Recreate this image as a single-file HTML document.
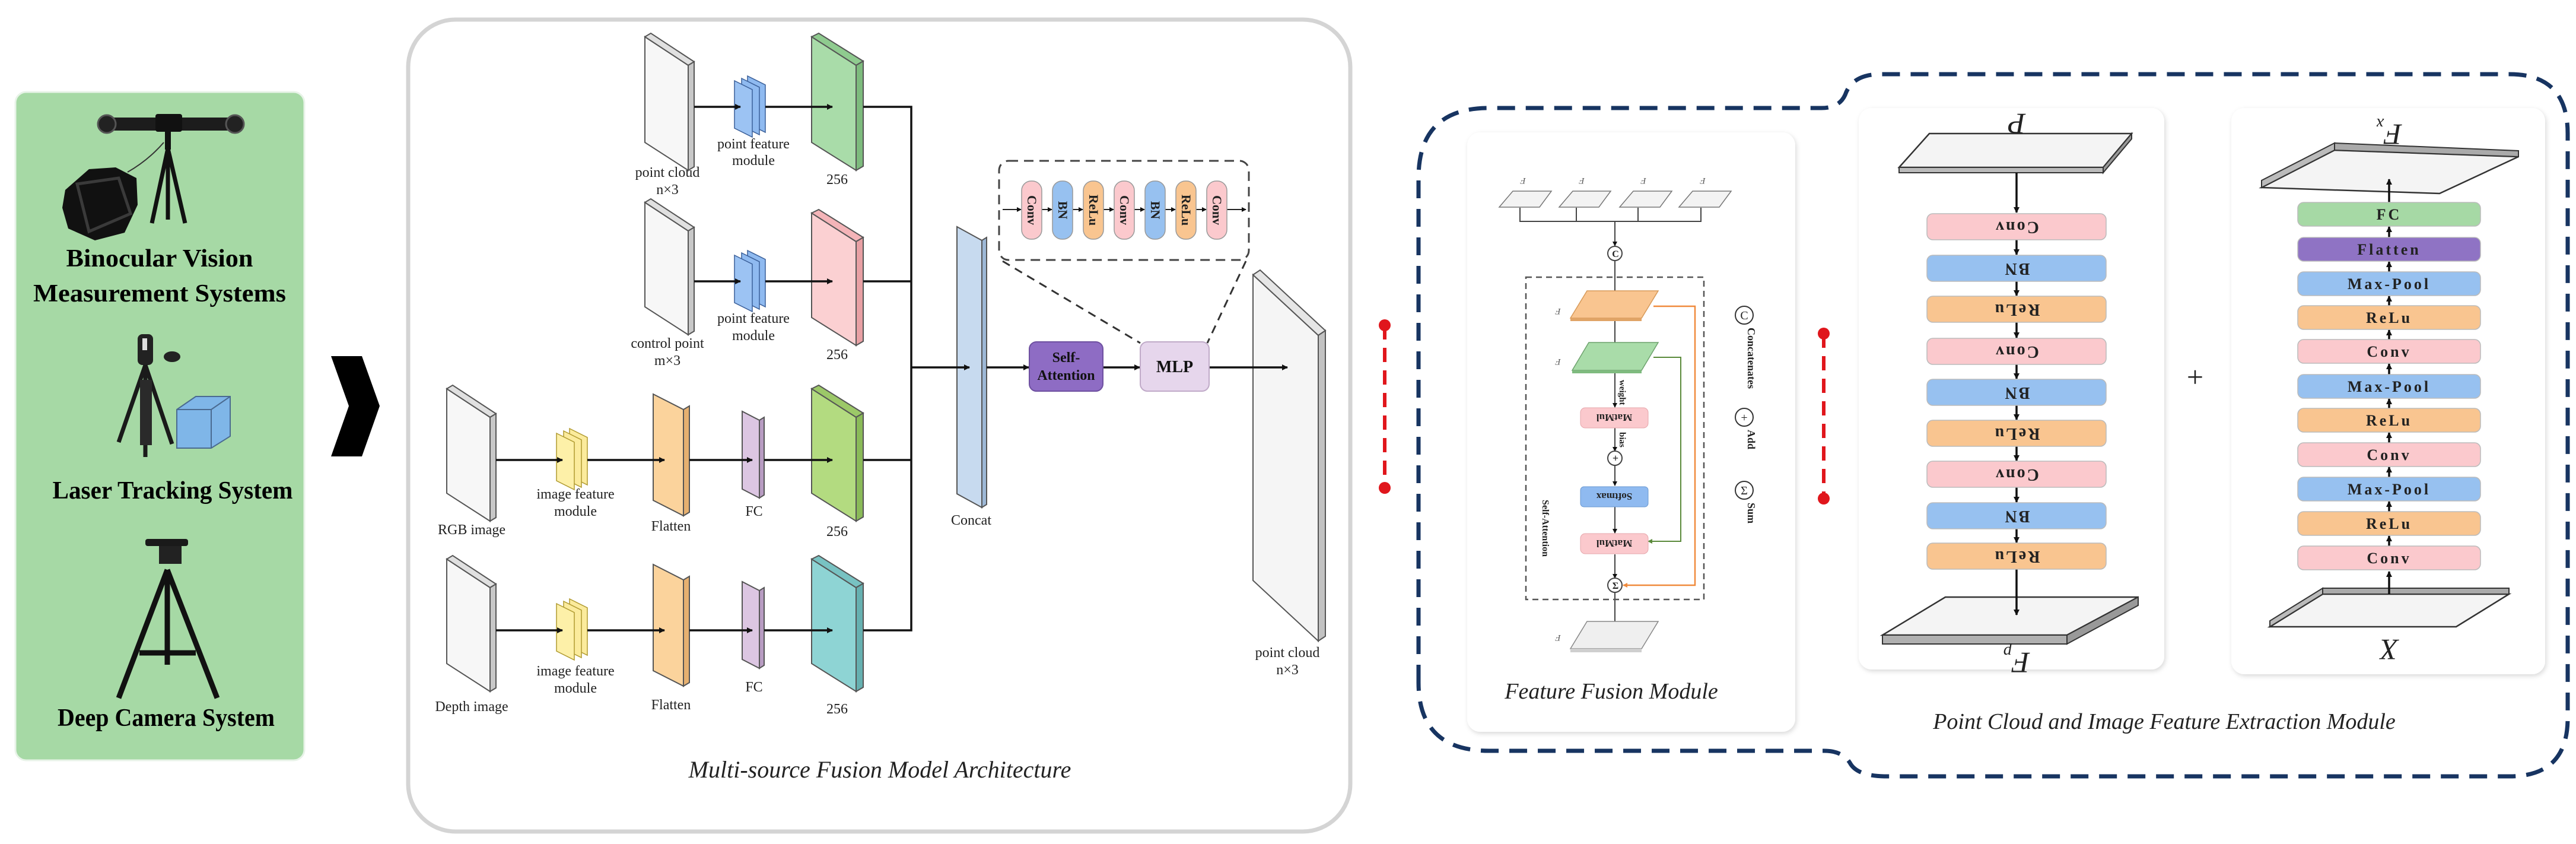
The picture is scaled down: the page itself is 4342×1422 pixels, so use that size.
<!DOCTYPE html>
<html><head><meta charset="utf-8"><style>
html,body{margin:0;padding:0;background:#fff;}
svg{display:block;}
text{font-family:"Liberation Serif",serif;}
</style></head><body>
<svg width="4342" height="1422" viewBox="0 0 4342 1422" xmlns="http://www.w3.org/2000/svg" font-family="Liberation Serif, serif">
<defs>
<marker id="ah" markerWidth="10" markerHeight="10" refX="9" refY="5" orient="auto" markerUnits="userSpaceOnUse" viewBox="0 0 10 10"><path d="M0,0 L10,5 L0,10 z" fill="#111"/></marker>
<marker id="as" markerWidth="8" markerHeight="8" refX="7" refY="4" orient="auto" markerUnits="userSpaceOnUse" viewBox="0 0 8 8"><path d="M0,0 L8,4 L0,8 z" fill="#111"/></marker>
<marker id="ao" markerWidth="8" markerHeight="8" refX="7" refY="4" orient="auto" markerUnits="userSpaceOnUse" viewBox="0 0 8 8"><path d="M0,0 L8,4 L0,8 z" fill="#f08a3c"/></marker>
<marker id="ag" markerWidth="8" markerHeight="8" refX="7" refY="4" orient="auto" markerUnits="userSpaceOnUse" viewBox="0 0 8 8"><path d="M0,0 L8,4 L0,8 z" fill="#5a8a3a"/></marker>
<filter id="sh" x="-5%" y="-5%" width="110%" height="110%"><feDropShadow dx="2" dy="3" stdDeviation="4" flood-color="#000" flood-opacity="0.15"/></filter>
</defs>

<!-- LEFT GREEN PANEL -->
<rect x="26" y="155" width="487" height="1126" rx="18" fill="#a6d9a5" stroke="#e8f3e8" stroke-width="3"/>
<rect x="175" y="198" width="225" height="22" rx="8" fill="#1c1c1c"/>
<circle cx="180" cy="209" r="15" fill="#222" stroke="#555" stroke-width="3"/>
<circle cx="396" cy="209" r="15" fill="#222" stroke="#555" stroke-width="3"/>
<rect x="262" y="192" width="45" height="30" rx="4" fill="#111"/>
<rect x="278" y="222" width="10" height="30" fill="#111"/>
<path d="M283,250 L256,376 M283,250 L312,376 M283,250 L283,370" stroke="#111" stroke-width="7"/>
<path d="M276,240 Q250,270 215,290" stroke="#333" stroke-width="2" fill="none"/>
<path d="M110,320 L150,285 L195,282 L230,300 L232,345 L210,392 L160,405 L115,385 L105,350 z" fill="#111"/>
<path d="M130,310 L200,300 L220,360 L150,390 z" fill="none" stroke="#3a3a3a" stroke-width="5"/>
<text x="269" y="449" font-family="Liberation Serif, serif" font-size="42" font-weight="bold" text-anchor="middle" textLength="315" lengthAdjust="spacingAndGlyphs">Binocular Vision</text>
<text x="269" y="508" font-family="Liberation Serif, serif" font-size="42" font-weight="bold" text-anchor="middle" textLength="426" lengthAdjust="spacingAndGlyphs">Measurement Systems</text>
<rect x="232" y="563" width="26" height="52" rx="8" fill="#222"/>
<rect x="240" y="570" width="8" height="20" fill="#ddd"/>
<ellipse cx="290" cy="601" rx="14" ry="9" fill="#222"/>
<path d="M245,615 L200,745 M245,615 L290,748 M245,615 L245,770" stroke="#1a1a1a" stroke-width="7"/>
<rect x="236" y="640" width="20" height="110" fill="#2a2a2a"/>
<path d="M298,690 L330,668 L388,668 L388,735 L356,755 L298,755 z" fill="#7fb6e8" stroke="#4a6a90" stroke-width="2"/>
<path d="M298,690 L356,690 L356,755 M356,690 L388,668" stroke="#4a6a90" stroke-width="2" fill="none"/>
<text x="291" y="840" font-family="Liberation Serif, serif" font-size="42" font-weight="bold" text-anchor="middle" textLength="405" lengthAdjust="spacingAndGlyphs">Laser Tracking System</text>
<rect x="245" y="908" width="72" height="12" rx="4" fill="#1a1a1a"/>
<rect x="268" y="920" width="38" height="30" fill="#222"/>
<path d="M282,960 L200,1176 M282,960 L366,1176 M282,960 L282,1120 M235,1100 L330,1100" stroke="#111" stroke-width="9"/>
<text x="280" y="1223" font-family="Liberation Serif, serif" font-size="42" font-weight="bold" text-anchor="middle" textLength="366" lengthAdjust="spacingAndGlyphs">Deep Camera System</text>

<path d="M558,600 L610,600 L640,684 L610,769 L558,769 L588,684 z" fill="#000"/>

<rect x="688" y="33" width="1588" height="1368" rx="80" fill="#fff" stroke="#d4d4d4" stroke-width="7"/>

<g stroke="#555" stroke-width="2">
<polygon points="1087,62 1160,110 1160,287 1087,240" fill="#f7f7f7"/>
<polygon points="1087,62 1097,56 1170,104 1160,110" fill="#e0e0e0"/>
<polygon points="1160,110 1170,104 1170,281 1160,287" fill="#c8c8c8"/>
<polygon points="1368,62 1443,110 1443,287 1368,240" fill="#a9dca9"/>
<polygon points="1368,62 1380,56 1455,103 1443,110" fill="#8fcb8f"/>
<polygon points="1443,110 1455,103 1455,280 1443,287" fill="#7dbb7d"/>
<polygon points="1087,341 1160,389 1160,564 1087,517" fill="#f7f7f7"/>
<polygon points="1087,341 1097,335 1170,383 1160,389" fill="#e0e0e0"/>
<polygon points="1160,389 1170,383 1170,558 1160,564" fill="#c8c8c8"/>
<polygon points="1368,359 1443,407 1443,582 1368,535" fill="#fbd0d2"/>
<polygon points="1368,359 1380,353 1455,400 1443,407" fill="#f4b4b8"/>
<polygon points="1443,407 1455,400 1455,575 1443,582" fill="#e8a0a4"/>
<polygon points="753,655 826,703 826,878 753,831" fill="#f7f7f7"/>
<polygon points="753,655 763,649 836,697 826,703" fill="#e0e0e0"/>
<polygon points="826,703 836,697 836,872 826,878" fill="#c8c8c8"/>
<polygon points="1101,664 1152,690 1152,869 1101,843" fill="#fbd39c"/>
<polygon points="1152,690 1162,684 1162,863 1152,869" fill="#e6b070"/>
<polygon points="1251,693 1280,708 1280,839 1251,824" fill="#dcc6e2"/>
<polygon points="1280,708 1288,703 1288,834 1280,839" fill="#b89cc2"/>
<polygon points="1368,655 1443,703 1443,878 1368,831" fill="#b3db80"/>
<polygon points="1368,655 1380,649 1455,696 1443,703" fill="#9cc868"/>
<polygon points="1443,703 1455,696 1455,871 1443,878" fill="#8aba58"/>
<polygon points="753,942 826,990 826,1165 753,1118" fill="#f7f7f7"/>
<polygon points="753,942 763,936 836,984 826,990" fill="#e0e0e0"/>
<polygon points="826,990 836,984 836,1159 826,1165" fill="#c8c8c8"/>
<polygon points="1101,951 1152,977 1152,1156 1101,1130" fill="#fbd39c"/>
<polygon points="1152,977 1162,971 1162,1150 1152,1156" fill="#e6b070"/>
<polygon points="1251,980 1280,995 1280,1126 1251,1111" fill="#dcc6e2"/>
<polygon points="1280,995 1288,990 1288,1121 1280,1126" fill="#b89cc2"/>
<polygon points="1368,942 1443,990 1443,1165 1368,1118" fill="#8ed4d4"/>
<polygon points="1368,942 1380,936 1455,983 1443,990" fill="#78c2c2"/>
<polygon points="1443,990 1455,983 1455,1158 1443,1165" fill="#66b0b0"/>
<polygon points="1613,382 1655,405 1655,855 1613,832" fill="#c7daef"/>
<polygon points="1655,405 1663,400 1663,850 1655,855" fill="#9db8d6"/>
<polygon points="2112,463 2222,565 2222,1080 2112,978" fill="#f5f5f5"/>
<polygon points="2112,463 2124,455 2234,557 2222,565" fill="#e6e6e6"/>
<polygon points="2222,565 2234,557 2234,1072 2222,1080" fill="#c2c2c2"/>
</g>

<g stroke="#3a5f99" stroke-width="1.5">
<polygon points="1260,128 1290,143 1290,223 1260,208" fill="#8fbaf0"/>
<polygon points="1250,132 1280,147 1280,227 1250,212" fill="#8fbaf0"/>
<polygon points="1238,136 1268,151 1268,231 1238,216" fill="#9cc3f3"/>
<polygon points="1260,422 1290,437 1290,517 1260,502" fill="#8fbaf0"/>
<polygon points="1250,426 1280,441 1280,521 1250,506" fill="#8fbaf0"/>
<polygon points="1238,430 1268,445 1268,525 1238,510" fill="#9cc3f3"/>
</g>
<g stroke="#b09a30" stroke-width="1.5">
<polygon points="960,722 990,737 990,817 960,802" fill="#fbeb9c"/>
<polygon points="950,726 980,741 980,821 950,806" fill="#fbeb9c"/>
<polygon points="938,730 968,745 968,825 938,810" fill="#fdf0a8"/>
<polygon points="960,1009 990,1024 990,1104 960,1089" fill="#fbeb9c"/>
<polygon points="950,1013 980,1028 980,1108 950,1093" fill="#fbeb9c"/>
<polygon points="938,1017 968,1032 968,1112 938,1097" fill="#fdf0a8"/>
</g>

<g stroke="#111" stroke-width="3.5" fill="none">
<line x1="1170" y1="180" x2="1248" y2="180" marker-end="url(#ah)"/>
<line x1="1290" y1="180" x2="1403" y2="180" marker-end="url(#ah)"/>
<line x1="1170" y1="474" x2="1248" y2="474" marker-end="url(#ah)"/>
<line x1="1290" y1="474" x2="1403" y2="474" marker-end="url(#ah)"/>
<line x1="836" y1="775" x2="948" y2="775" marker-end="url(#ah)"/>
<line x1="990" y1="775" x2="1120" y2="775" marker-end="url(#ah)"/>
<line x1="1162" y1="775" x2="1268" y2="775" marker-end="url(#ah)"/>
<line x1="1288" y1="775" x2="1403" y2="775" marker-end="url(#ah)"/>
<line x1="836" y1="1062" x2="948" y2="1062" marker-end="url(#ah)"/>
<line x1="990" y1="1062" x2="1120" y2="1062" marker-end="url(#ah)"/>
<line x1="1162" y1="1062" x2="1268" y2="1062" marker-end="url(#ah)"/>
<line x1="1288" y1="1062" x2="1403" y2="1062" marker-end="url(#ah)"/>
<polyline points="1455,180 1536,180 1536,1062 1455,1062"/>
<line x1="1455" y1="474" x2="1536" y2="474"/>
<line x1="1455" y1="775" x2="1536" y2="775"/>
<line x1="1536" y1="619" x2="1634" y2="619" marker-end="url(#ah)"/>
<line x1="1663" y1="619" x2="1734" y2="619" marker-end="url(#ah)"/>
<line x1="1859" y1="619" x2="1921" y2="619" marker-end="url(#ah)"/>
<line x1="2038" y1="619" x2="2170" y2="619" marker-end="url(#ah)"/>
</g>

<rect x="1735" y="576" width="124" height="83" rx="12" fill="#8e6cc4" stroke="#6e50a0" stroke-width="2"/>
<text x="1797" y="610" font-size="24" font-weight="bold" text-anchor="middle" fill="#111">Self-</text>
<text x="1797" y="640" font-size="24" font-weight="bold" text-anchor="middle" fill="#111">Attention</text>
<rect x="1922" y="576" width="116" height="83" rx="12" fill="#e6d6ec" stroke="#c0aac8" stroke-width="2"/>
<text x="1980" y="627" font-size="28" font-weight="bold" text-anchor="middle" fill="#111">MLP</text>

<rect x="1684" y="271" width="421" height="167" rx="16" fill="none" stroke="#444" stroke-width="3" stroke-dasharray="16,10"/>
<line x1="1690" y1="440" x2="1922" y2="578" stroke="#333" stroke-width="3" stroke-dasharray="14,10"/>
<line x1="2100" y1="440" x2="2035" y2="578" stroke="#333" stroke-width="3" stroke-dasharray="14,10"/>
<g stroke="#222" stroke-width="2" fill="none">
<line x1="1690" y1="353" x2="1721" y2="353" marker-end="url(#as)"/>
<line x1="1756" y1="353" x2="1773" y2="353" marker-end="url(#as)"/>
<line x1="1808" y1="353" x2="1825" y2="353" marker-end="url(#as)"/>
<line x1="1860" y1="353" x2="1877" y2="353" marker-end="url(#as)"/>
<line x1="1912" y1="353" x2="1929" y2="353" marker-end="url(#as)"/>
<line x1="1964" y1="353" x2="1981" y2="353" marker-end="url(#as)"/>
<line x1="2016" y1="353" x2="2033" y2="353" marker-end="url(#as)"/>
<line x1="2068" y1="353" x2="2100" y2="353" marker-end="url(#as)"/>
</g>
<g stroke="#999" stroke-width="1.5">
<rect x="1722" y="305" width="34" height="98" rx="16" fill="#fbc9cd"/>
<rect x="1774" y="305" width="34" height="98" rx="16" fill="#97c1f0"/>
<rect x="1826" y="305" width="34" height="98" rx="16" fill="#f9c590"/>
<rect x="1878" y="305" width="34" height="98" rx="16" fill="#fbc9cd"/>
<rect x="1930" y="305" width="34" height="98" rx="16" fill="#97c1f0"/>
<rect x="1982" y="305" width="34" height="98" rx="16" fill="#f9c590"/>
<rect x="2034" y="305" width="34" height="98" rx="16" fill="#fbc9cd"/>
</g>
<g font-size="22" font-weight="bold" text-anchor="middle" fill="#222">
<text transform="translate(1732,354) rotate(90)">Conv</text>
<text transform="translate(1784,354) rotate(90)">BN</text>
<text transform="translate(1836,354) rotate(90)">ReLu</text>
<text transform="translate(1888,354) rotate(90)">Conv</text>
<text transform="translate(1940,354) rotate(90)">BN</text>
<text transform="translate(1992,354) rotate(90)">ReLu</text>
<text transform="translate(2044,354) rotate(90)">Conv</text>
</g>

<g font-size="24" text-anchor="middle" fill="#222">
<text x="1125" y="298">point cloud</text><text x="1125" y="327">n×3</text>
<text x="1270" y="250">point feature</text><text x="1270" y="278">module</text>
<text x="1411" y="310">256</text>
<text x="1125" y="586">control point</text><text x="1125" y="615">m×3</text>
<text x="1270" y="544">point feature</text><text x="1270" y="573">module</text>
<text x="1411" y="605">256</text>
<text x="795" y="900">RGB image</text>
<text x="970" y="840">image feature</text><text x="970" y="869">module</text>
<text x="1131" y="894">Flatten</text><text x="1271" y="869">FC</text><text x="1411" y="903">256</text>
<text x="795" y="1198">Depth image</text>
<text x="970" y="1138">image feature</text><text x="970" y="1167">module</text>
<text x="1131" y="1195">Flatten</text><text x="1271" y="1165">FC</text><text x="1411" y="1202">256</text>
<text x="1637" y="884">Concat</text>
<text x="2170" y="1107">point cloud</text><text x="2170" y="1136">n×3</text>
</g>
<text x="1483" y="1310" font-size="40" font-style="italic" text-anchor="middle" fill="#222">Multi-source Fusion Model Architecture</text>

<line x1="2334" y1="548" x2="2334" y2="822" stroke="#e0161c" stroke-width="6" stroke-dasharray="24,14"/>
<circle cx="2334" cy="548" r="10" fill="#e0161c"/><circle cx="2334" cy="822" r="10" fill="#e0161c"/>
<line x1="3074" y1="562" x2="3074" y2="840" stroke="#e0161c" stroke-width="6" stroke-dasharray="24,14"/>
<circle cx="3074" cy="562" r="10" fill="#e0161c"/><circle cx="3074" cy="840" r="10" fill="#e0161c"/>

<path d="M2391,1150 L2391,300 Q2391,182 2510,182 L3070,182 Q3100,182 3110,160 Q3122,125 3170,125 L4230,125 Q4328,125 4328,225 L4328,1210 Q4328,1308 4230,1308 L3180,1308 Q3130,1308 3118,1285 Q3105,1265 3075,1265 L2510,1265 Q2391,1265 2391,1150 z" fill="none" stroke="#173461" stroke-width="7" stroke-dasharray="30,18"/>

<rect x="2473" y="223" width="553" height="1010" rx="22" fill="#fff" filter="url(#sh)"/>
<rect x="3133" y="182" width="515" height="946" rx="22" fill="#fff" filter="url(#sh)"/>
<rect x="3761" y="182" width="529" height="954" rx="22" fill="#fff" filter="url(#sh)"/>

<g stroke="#777" stroke-width="1.5">
<polygon points="2527,349 2550,322 2615,322 2595,349" fill="#f3f3f3"/>
<polygon points="2628,349 2651,322 2715,322 2695,349" fill="#f3f3f3"/>
<polygon points="2730,349 2753,322 2818,322 2798,349" fill="#f3f3f3"/>
<polygon points="2830,349 2853,322 2918,322 2898,349" fill="#f3f3f3"/>
</g>
<g stroke="#444" stroke-width="2" fill="none">
<polyline points="2562,350 2562,373 2867,373 2867,350"/>
<line x1="2657" y1="350" x2="2657" y2="373"/><line x1="2761" y1="350" x2="2761" y2="373"/>
<line x1="2722" y1="373" x2="2722" y2="414" marker-end="url(#as)"/>
<circle cx="2722" cy="427" r="12"/>
<line x1="2722" y1="439" x2="2722" y2="506" marker-end="url(#as)"/>
<line x1="2722" y1="540" x2="2722" y2="593" marker-end="url(#as)"/>
<line x1="2722" y1="626" x2="2722" y2="686" marker-end="url(#as)"/>
<line x1="2722" y1="721" x2="2722" y2="760" marker-end="url(#as)"/>
<circle cx="2722" cy="772" r="12"/>
<line x1="2722" y1="784" x2="2722" y2="818" marker-end="url(#as)"/>
<line x1="2722" y1="854" x2="2722" y2="898" marker-end="url(#as)"/>
<line x1="2722" y1="934" x2="2722" y2="974" marker-end="url(#as)"/>
<circle cx="2722" cy="986" r="12"/>
<line x1="2722" y1="998" x2="2722" y2="1062" marker-end="url(#as)"/>
</g>
<rect x="2572" y="467" width="300" height="543" fill="none" stroke="#555" stroke-width="2.5" stroke-dasharray="10,7"/>
<polygon points="2647,536 2675,490 2795,490 2767,536" fill="#f9c590" stroke="#d79a5a" stroke-width="1.5"/>
<polygon points="2647,536 2767,536 2767,541 2647,541" fill="#e0a466"/>
<polygon points="2650,624 2678,577 2795,577 2767,624" fill="#a9dca9" stroke="#6da26d" stroke-width="1.5"/>
<polygon points="2650,624 2767,624 2767,629 2650,629" fill="#7fbb7f"/>
<polyline points="2787,516 2857,516 2857,986 2736,986" fill="none" stroke="#f08a3c" stroke-width="2.5" marker-end="url(#ao)"/>
<polyline points="2787,602 2833,602 2833,912 2778,912" fill="none" stroke="#5a8a3a" stroke-width="2" marker-end="url(#ag)"/>
<rect x="2664" y="687" width="114" height="34" rx="8" fill="#fbc9cd" stroke="#e6a6ab"/>
<rect x="2664" y="820" width="114" height="34" rx="6" fill="#8fbaf0" stroke="#6a98d0"/>
<rect x="2664" y="899" width="114" height="34" rx="8" fill="#fbc9cd" stroke="#e6a6ab"/>
<g font-size="17" font-weight="bold" text-anchor="middle" fill="#222">
<text transform="translate(2721,698) rotate(180)">MatMul</text>
<text transform="translate(2721,831) rotate(180)">Softmax</text>
<text transform="translate(2721,910) rotate(180)">MatMul</text>
<text transform="translate(2730,640) rotate(90)" text-anchor="start" font-size="15">weight</text>
<text transform="translate(2730,728) rotate(90)" text-anchor="start" font-size="15">bias</text>
<text transform="translate(2600,890) rotate(90)" font-size="16">Self-Attention</text>
<text x="2723" y="433" font-size="16">C</text>
<text x="2723" y="778" font-size="18">+</text>
<text x="2723" y="992" font-size="16">Σ</text>
</g>
<g stroke="#333" stroke-width="2" fill="none">
<circle cx="2940" cy="531" r="15"/><circle cx="2940" cy="703" r="15"/><circle cx="2940" cy="826" r="15"/>
</g>
<g font-size="20" fill="#222" text-anchor="middle">
<text x="2940" y="538">C</text><text x="2940" y="710">+</text><text x="2940" y="833">Σ</text>
<text transform="translate(2946,552) rotate(90)" text-anchor="start" font-size="18" font-weight="bold">Concatenates</text>
<text transform="translate(2946,724) rotate(90)" text-anchor="start" font-size="18" font-weight="bold">Add</text>
<text transform="translate(2946,847) rotate(90)" text-anchor="start" font-size="18" font-weight="bold">Sum</text>
</g>
<polygon points="2647,1093 2675,1047 2795,1047 2767,1093" fill="#efefef" stroke="#888" stroke-width="1.5"/>
<polygon points="2647,1093 2767,1093 2767,1099 2647,1099" fill="#cfcfcf"/>
<g font-size="15" font-style="italic" fill="#555" text-anchor="middle">
<text transform="translate(2567,300) rotate(180)">F</text><text transform="translate(2666,300) rotate(180)">F</text>
<text transform="translate(2770,300) rotate(180)">F</text><text transform="translate(2870,300) rotate(180)">F</text>
<text transform="translate(2626,520) rotate(180)">F</text><text transform="translate(2626,605) rotate(180)">F</text>
<text transform="translate(2626,1070) rotate(180)">F</text>
</g>
<text x="2716" y="1177" font-size="38" font-style="italic" text-anchor="middle" fill="#222">Feature Fusion Module</text>

<polygon points="3201,282 3252,225 3593,225 3545,282" fill="#f4f4f4" stroke="#333" stroke-width="2.5"/>
<polygon points="3201,282 3545,282 3545,291 3201,291" fill="#bbb" stroke="#333" stroke-width="2"/>
<polygon points="3545,282 3593,225 3593,234 3545,291" fill="#999" stroke="#333" stroke-width="2"/>
<polygon points="3173,1070 3279,1006 3604,1006 3484,1070" fill="#f4f4f4" stroke="#333" stroke-width="2.5"/>
<polygon points="3173,1070 3484,1070 3484,1085 3173,1085" fill="#b0b0b0" stroke="#333" stroke-width="2"/>
<polygon points="3484,1070 3604,1006 3604,1020 3484,1085" fill="#999" stroke="#333" stroke-width="2"/>
<g stroke="#111" stroke-width="3.5" fill="none">
<line x1="3399" y1="291" x2="3399" y2="358" marker-end="url(#ah)"/>
<line x1="3399" y1="404" x2="3399" y2="429" marker-end="url(#ah)"/>
<line x1="3399" y1="474" x2="3399" y2="498" marker-end="url(#ah)"/>
<line x1="3399" y1="543" x2="3399" y2="569" marker-end="url(#ah)"/>
<line x1="3399" y1="614" x2="3399" y2="638" marker-end="url(#ah)"/>
<line x1="3399" y1="683" x2="3399" y2="707" marker-end="url(#ah)"/>
<line x1="3399" y1="752" x2="3399" y2="776" marker-end="url(#ah)"/>
<line x1="3399" y1="821" x2="3399" y2="846" marker-end="url(#ah)"/>
<line x1="3399" y1="891" x2="3399" y2="914" marker-end="url(#ah)"/>
<line x1="3399" y1="959" x2="3399" y2="1036" marker-end="url(#ah)"/>
</g>
<g stroke="#bbb" stroke-width="1.5">
<rect x="3248" y="360" width="302" height="44" rx="10" fill="#fbc9cd"/>
<rect x="3248" y="430" width="302" height="44" rx="10" fill="#97c1f0"/>
<rect x="3248" y="499" width="302" height="44" rx="10" fill="#f9c590"/>
<rect x="3248" y="570" width="302" height="44" rx="10" fill="#fbc9cd"/>
<rect x="3248" y="639" width="302" height="44" rx="10" fill="#97c1f0"/>
<rect x="3248" y="708" width="302" height="44" rx="10" fill="#f9c590"/>
<rect x="3248" y="777" width="302" height="44" rx="10" fill="#fbc9cd"/>
<rect x="3248" y="847" width="302" height="44" rx="10" fill="#97c1f0"/>
<rect x="3248" y="915" width="302" height="44" rx="10" fill="#f9c590"/>
</g>
<g font-size="28" font-weight="bold" text-anchor="middle" fill="#222" letter-spacing="3">
<text transform="translate(3399,374) rotate(180)">Conv</text>
<text transform="translate(3399,444) rotate(180)">BN</text>
<text transform="translate(3399,513) rotate(180)">ReLu</text>
<text transform="translate(3399,584) rotate(180)">Conv</text>
<text transform="translate(3399,653) rotate(180)">BN</text>
<text transform="translate(3399,722) rotate(180)">ReLu</text>
<text transform="translate(3399,791) rotate(180)">Conv</text>
<text transform="translate(3399,861) rotate(180)">BN</text>
<text transform="translate(3399,929) rotate(180)">ReLu</text>
</g>
<text transform="translate(3399,192) rotate(180)" font-size="50" font-style="italic" text-anchor="middle" fill="#222">P</text>
<text transform="translate(3399,1100) rotate(180)" font-size="50" font-style="italic" text-anchor="middle" fill="#222">F<tspan font-size="28" dy="10">p</tspan></text>

<text x="3700" y="652" font-size="50" text-anchor="middle" fill="#222">+</text>

<polygon points="3812,316 3935,253 4245,264 4112,326" fill="#f4f4f4" stroke="#333" stroke-width="2.5"/>
<polygon points="3812,316 3812,304 3935,241 3935,253" fill="#bbb" stroke="#333" stroke-width="2"/>
<polygon points="3935,241 4245,254 4245,264 3935,253" fill="#aaa" stroke="#333" stroke-width="2"/>
<polygon points="3826,1056 3915,1001 4229,1001 4140,1056" fill="#f4f4f4" stroke="#333" stroke-width="2.5"/>
<polygon points="3826,1056 3915,1001 3915,991 3826,1046" fill="#bbb" stroke="#333" stroke-width="2"/>
<polygon points="3915,991 4229,991 4229,1001 3915,1001" fill="#aaa" stroke="#333" stroke-width="2"/>
<g stroke="#111" stroke-width="3.5" fill="none">
<line x1="4027" y1="1001" x2="4027" y2="963" marker-end="url(#ah)"/>
<line x1="4027" y1="920" x2="4027" y2="903" marker-end="url(#ah)"/>
<line x1="4027" y1="862" x2="4027" y2="845" marker-end="url(#ah)"/>
<line x1="4027" y1="804" x2="4027" y2="787" marker-end="url(#ah)"/>
<line x1="4027" y1="746" x2="4027" y2="729" marker-end="url(#ah)"/>
<line x1="4027" y1="688" x2="4027" y2="672" marker-end="url(#ah)"/>
<line x1="4027" y1="631" x2="4027" y2="613" marker-end="url(#ah)"/>
<line x1="4027" y1="572" x2="4027" y2="556" marker-end="url(#ah)"/>
<line x1="4027" y1="515" x2="4027" y2="499" marker-end="url(#ah)"/>
<line x1="4027" y1="458" x2="4027" y2="441" marker-end="url(#ah)"/>
<line x1="4027" y1="400" x2="4027" y2="382" marker-end="url(#ah)"/>
<line x1="4027" y1="341" x2="4027" y2="302" marker-end="url(#ah)"/>
</g>
<g stroke="#bbb" stroke-width="1.5">
<rect x="3873" y="341" width="308" height="40" rx="10" fill="#a6d9a5"/>
<rect x="3873" y="400" width="308" height="40" rx="10" fill="#8f73c4"/>
<rect x="3873" y="458" width="308" height="40" rx="10" fill="#97c1f0"/>
<rect x="3873" y="515" width="308" height="40" rx="10" fill="#f9c590"/>
<rect x="3873" y="572" width="308" height="40" rx="10" fill="#fbc9cd"/>
<rect x="3873" y="631" width="308" height="40" rx="10" fill="#97c1f0"/>
<rect x="3873" y="688" width="308" height="40" rx="10" fill="#f9c590"/>
<rect x="3873" y="746" width="308" height="40" rx="10" fill="#fbc9cd"/>
<rect x="3873" y="804" width="308" height="40" rx="10" fill="#97c1f0"/>
<rect x="3873" y="862" width="308" height="40" rx="10" fill="#f9c590"/>
<rect x="3873" y="920" width="308" height="40" rx="10" fill="#fbc9cd"/>
</g>
<g font-size="26" font-weight="bold" text-anchor="middle" fill="#222" letter-spacing="4">
<text x="4027" y="370">FC</text>
<text x="4027" y="429">Flatten</text>
<text x="4027" y="487">Max-Pool</text>
<text x="4027" y="544">ReLu</text>
<text x="4027" y="601">Conv</text>
<text x="4027" y="660">Max-Pool</text>
<text x="4027" y="717">ReLu</text>
<text x="4027" y="775">Conv</text>
<text x="4027" y="833">Max-Pool</text>
<text x="4027" y="891">ReLu</text>
<text x="4027" y="949">Conv</text>
</g>
<text transform="translate(4027,210) rotate(180)" font-size="50" font-style="italic" text-anchor="middle" fill="#222">F<tspan font-size="28" dy="10">x</tspan></text>
<text transform="translate(4027,1078) rotate(180)" font-size="50" font-style="italic" text-anchor="middle" fill="#222">X</text>

<text x="3648" y="1228" font-size="38" font-style="italic" text-anchor="middle" fill="#222">Point Cloud and Image Feature Extraction Module</text>
</svg>
</body></html>
